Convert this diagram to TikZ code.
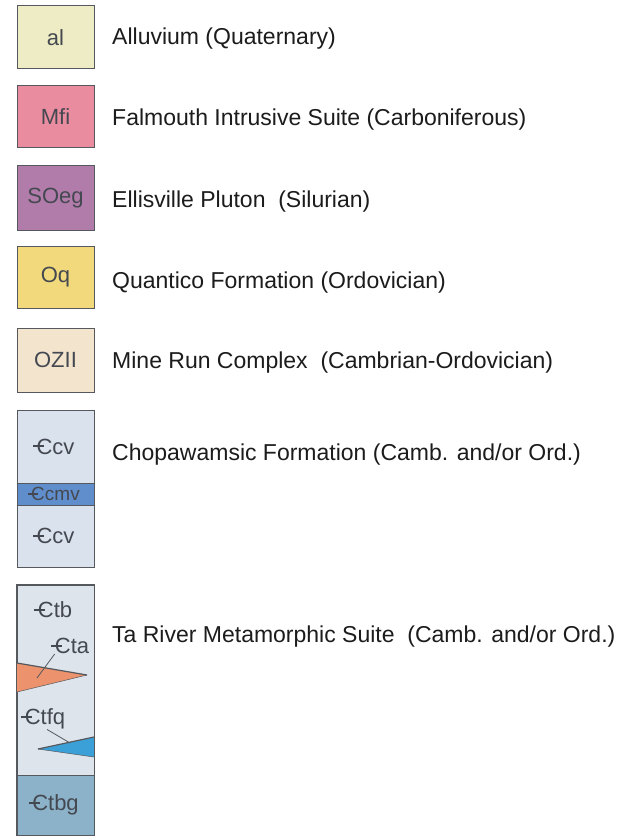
\documentclass[tikz,border=0pt]{standalone}
\usepackage{fontspec}
\setmainfont{Liberation Sans}
\usetikzlibrary{positioning}
\definecolor{boxline}{RGB}{85,88,92}
\definecolor{lbltext}{RGB}{68,72,80}
\definecolor{desctext}{RGB}{28,28,28}
\definecolor{alluv}{RGB}{238,236,196}
\definecolor{falm}{RGB}{234,140,160}
\definecolor{ellis}{RGB}{178,124,170}
\definecolor{quant}{RGB}{242,218,124}
\definecolor{minerun}{RGB}{243,228,206}
\definecolor{chopa}{RGB}{218,226,238}
\definecolor{chopamv}{RGB}{96,142,204}
\definecolor{tariv}{RGB}{222,228,236}
\definecolor{taamph}{RGB}{236,146,108}
\definecolor{taqtz}{RGB}{60,160,216}
\definecolor{tabg}{RGB}{140,178,202}
\tikzset{
    unit/.style={rectangle, draw=boxline, line width=1pt, minimum width=77pt, inner sep=0pt, text=lbltext, font=\fontsize{22}{25}\selectfont},
    desc/.style={anchor=base west, inner sep=0pt, text=desctext, font=\fontsize{23}{27}\selectfont},
    inlbl/.style={inner sep=0pt, text=lbltext, font=\fontsize{22}{25}\selectfont},
    leader/.style={draw=boxline, line width=0.8pt}
}
\newcommand{\Camb}{\makebox[0pt][l]{\kern-0.16em\rule[0.3em]{0.5em}{0.1em}}C}

\begin{document}
\begin{tikzpicture}[x=1pt, y=-1pt]
    \useasboundingbox[fill=white] (0,0) rectangle (632,837);

    % Single units
    \node (al) [unit, fill=alluv, minimum height=63pt] at (55.5,37.5) {al};
    \node (mfi) [unit, fill=falm, minimum height=62pt] at (55.5,117) {Mfi};
    \node (soeg) [unit, fill=ellis, minimum height=64pt] at (55.5,198) {SOeg};
    \node (oq) [unit, fill=quant, minimum height=62pt] at (55.5,277) {Oq};
    \node (ozii) [unit, fill=minerun, minimum height=64pt] at (55.5,360) {OZII};

    % Chopawamsic column
    \node (ccv_top) [unit, fill=chopa, minimum height=73pt] at (55.5,446.5) {\Camb cv};
    \node (ccmv) [unit, fill=chopamv, minimum height=22pt, font=\fontsize{19}{22}\selectfont] at (55.5,494) {\Camb cmv};
    \node (ccv_bot) [unit, fill=chopa, minimum height=62pt] at (55.5,536) {\Camb cv};

    % Ta River column
    \node (ta_col) [unit, fill=tariv, minimum height=190pt] at (55.5,680) {};
    \fill[taamph] (17,663) -- (87,675) -- (17,692) -- cycle;
    \draw[boxline, line width=0.5pt] (87,675) -- (17,692);
    \draw[boxline, line width=1.2pt] (17,663) -- (87,675);
    \fill[taqtz] (94,737) -- (38,749) -- (94,757) -- cycle;
    \draw[boxline, line width=0.5pt] (38,749) -- (94,757);
    \draw[boxline, line width=1.2pt] (94,737) -- (38,749);
    \node (ctbg) [unit, fill=tabg, minimum height=60pt] at (55.5,805) {\Camb tbg};
    \draw[boxline, line width=1pt] (ta_col.north west) rectangle (ctbg.south east);

    \node (ctb_lbl) [inlbl] at (55,610) {\Camb tb};
    \node (cta_lbl) [inlbl] at (72,646) {\Camb ta};
    \node (ctfq_lbl) [inlbl] at (45,719) {\Camb tfq};
    \coordinate (cta_pt) at (37,678);
    \coordinate (ctfq_pt) at (70,743);
    \draw[leader] (cta_lbl.south west) -- (cta_pt);
    \draw[leader] ([xshift=2pt]ctfq_lbl.south) -- (ctfq_pt);

    % Descriptions
    \node (al_txt) [desc] at (112,45) {Alluvium (Quaternary)};
    \node (mfi_txt) [desc] at (112,126) {Falmouth Intrusive Suite (Carboniferous)};
    \node (soeg_txt) [desc] at (112,207) {Ellisville Pluton\ \ (Silurian)};
    \node (oq_txt) [desc] at (112,288) {Quantico Formation (Ordovician)};
    \node (ozii_txt) [desc] at (112,368) {Mine Run Complex\ \ (Cambrian-Ordovician)};
    \node (ccv_txt) [desc] at (112,460) {Chopawamsic Formation (Camb. and/or Ord.)};
    \node (ta_txt) [desc] at (112,642) {Ta River Metamorphic Suite\ \ (Camb. and/or Ord.)};
\end{tikzpicture}
\end{document}
